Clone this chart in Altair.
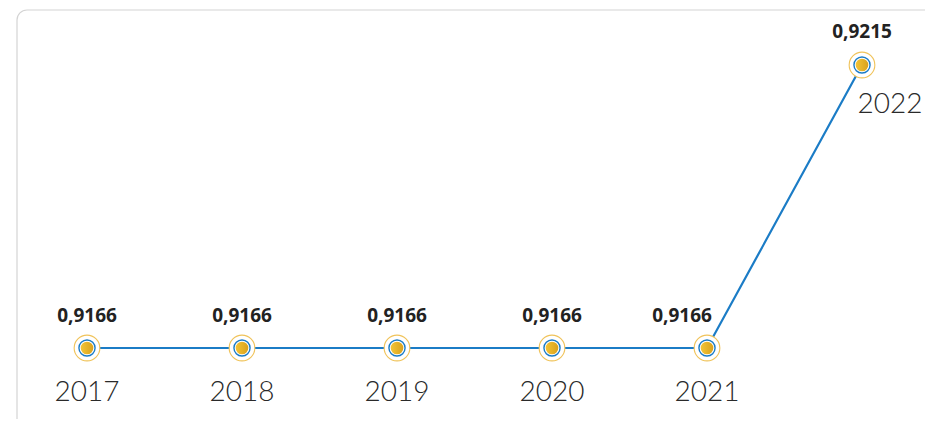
import altair as alt
import pandas as pd

years = [2017, 2018, 2019, 2020, 2021, 2022]
values = [0.9166, 0.9166, 0.9166, 0.9166, 0.9166, 0.9215]
value_labels = ["0,9166", "0,9166", "0,9166", "0,9166", "0,9166", "0,9215"]
year_labels = ["2017", "2018", "2019", "2020", "2021", "2022"]

df = pd.DataFrame({"year": years, "value": values, "vlabel": value_labels, "ylabel": year_labels})

xs = alt.Scale(domain=[2017, 2022], range=[79, 854])
ys = alt.Scale(domain=[0.9166, 0.9215], range=[340, 57])
X = alt.X("year:Q", scale=xs, axis=None)
Y = alt.Y("value:Q", scale=ys, axis=None)

base = alt.Chart(df)

frame = alt.Chart(pd.DataFrame({"a": [0]})).mark_rect(
    fill="white", stroke="#d4d4d4", strokeWidth=1.2, cornerRadius=10
).encode(x=alt.value(9), x2=alt.value(1200), y=alt.value(2), y2=alt.value(1200))

line = base.mark_line(color="#1b7cc6", strokeWidth=2.2).encode(x=X, y=Y)

outer = base.mark_circle(size=660, fill="white", opacity=1, stroke="#f0c35a", strokeWidth=1.1).encode(x=X, y=Y)
ring = base.mark_circle(size=260, fill="white", opacity=1, stroke="#1b7cc6", strokeWidth=1.4).encode(x=X, y=Y)
gold = base.mark_circle(
    size=160, opacity=1,
    fill=alt.Gradient(gradient="linear", x1=0, x2=1, y1=0, y2=0,
                      stops=[alt.GradientStop(color="#f3c437", offset=0),
                             alt.GradientStop(color="#d9a21c", offset=1)]),
).encode(x=X, y=Y)

vtext_style = dict(font="Open Sans", fontSize=19, fontWeight="bold", color="#222222", baseline="middle", align="center")
ytext_style = dict(font="Lato", fontSize=28, fontWeight=300, color="#2a2a2a", baseline="middle", align="center")

vals_main = base.transform_filter("datum.year <= 2020").mark_text(dy=-32, **vtext_style).encode(x=X, y=Y, text="vlabel:N")
vals_2021 = base.transform_filter("datum.year == 2021").mark_text(dy=-32, dx=-25, **vtext_style).encode(x=X, y=Y, text="vlabel:N")
vals_2022 = base.transform_filter("datum.year == 2022").mark_text(dy=-33, **vtext_style).encode(x=X, y=Y, text="vlabel:N")

yrs_main = base.transform_filter("datum.year <= 2021").mark_text(dy=45, **ytext_style).encode(x=X, y=Y, text="ylabel:N")
yrs_2022 = base.transform_filter("datum.year == 2022").mark_text(dy=40, dx=28, **ytext_style).encode(x=X, y=Y, text="ylabel:N")

chart = alt.layer(
    frame, line, outer, ring, gold, vals_main, vals_2021, vals_2022, yrs_main, yrs_2022
).properties(
    width=917, height=411, autosize=alt.AutoSizeParams(type="none"), padding=0
).configure_view(stroke=None)

chart.save("out.html", embed_options={"renderer": "svg", "actions": False})
